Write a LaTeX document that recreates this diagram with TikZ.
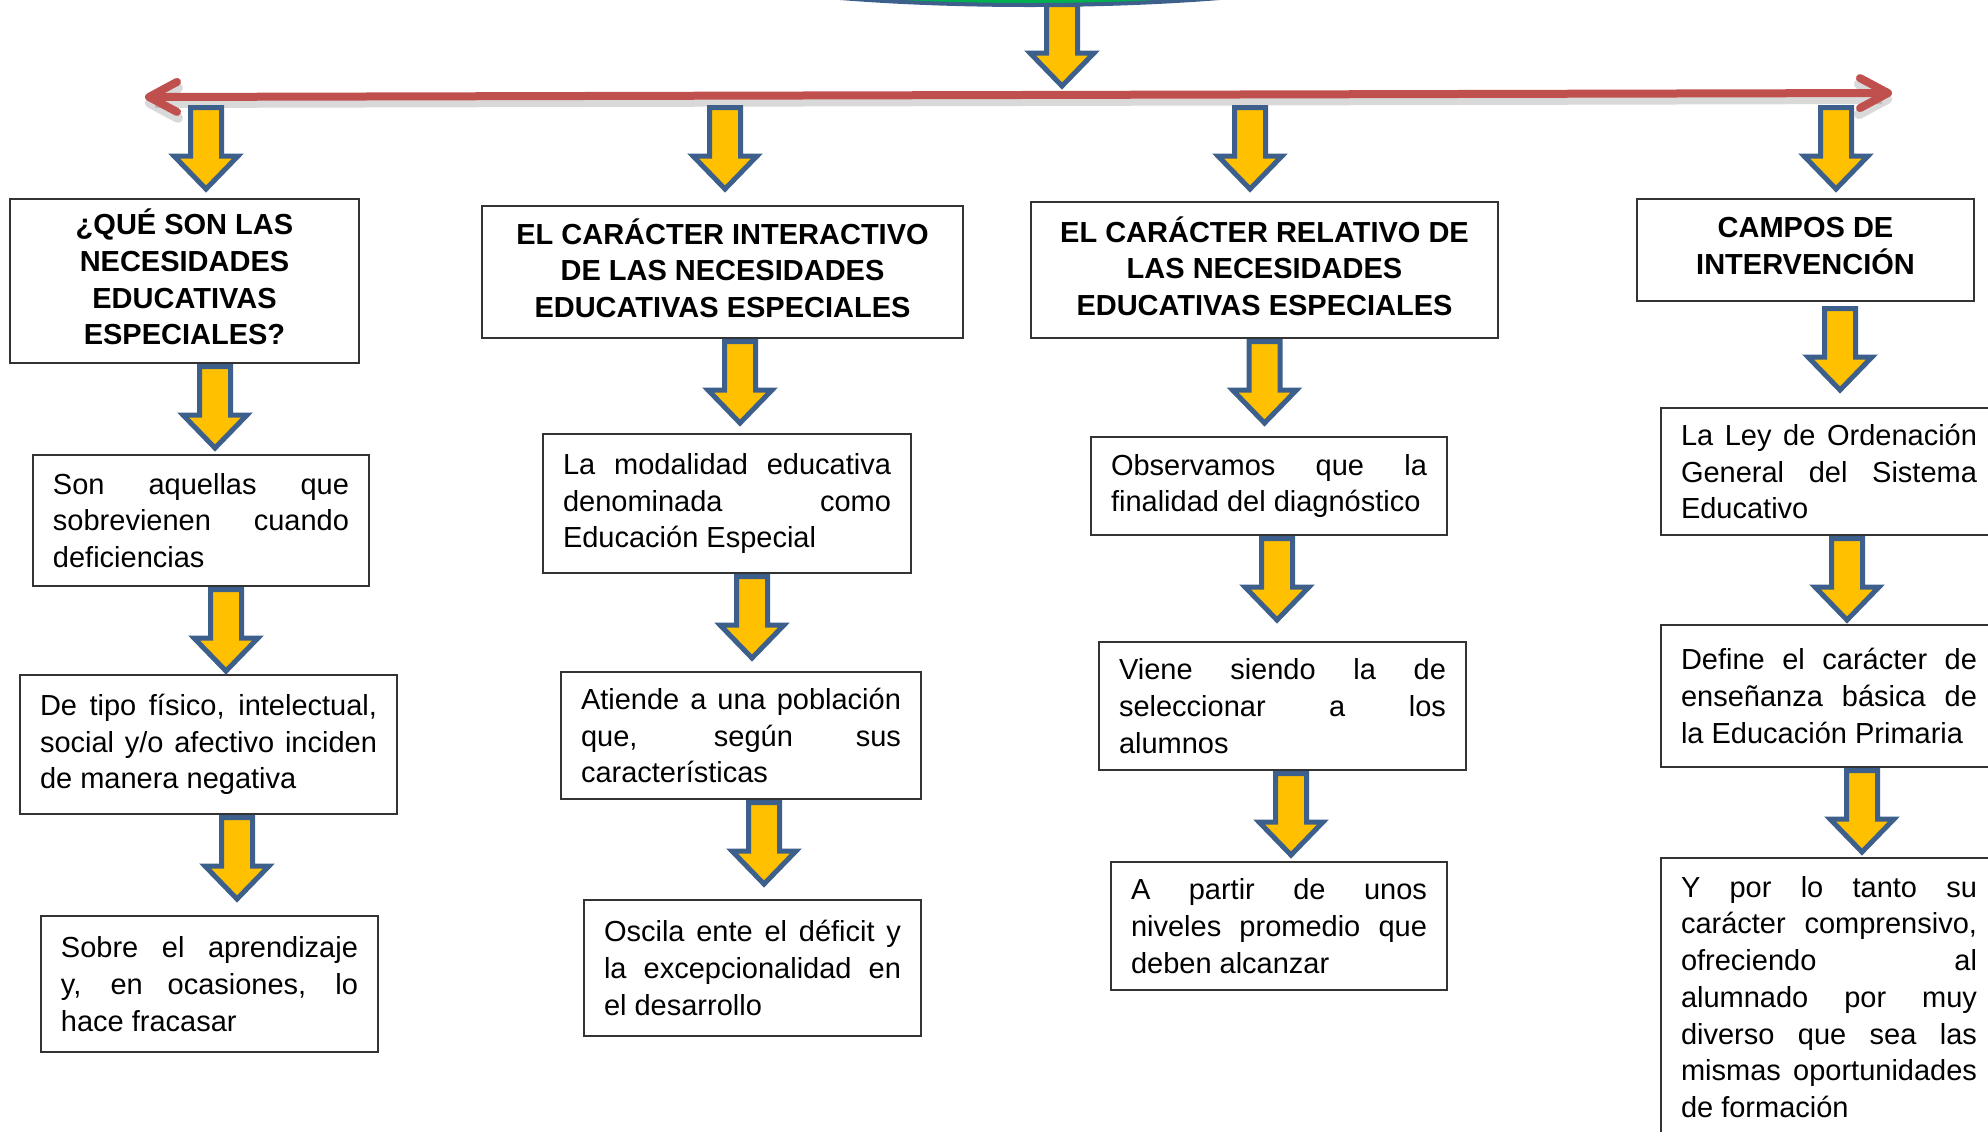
\documentclass[tikz,border=0pt]{standalone}
\usepackage{fontspec}
\setmainfont{Liberation Sans}
\usetikzlibrary{arrows.meta,calc}

\definecolor{arrowfill}{HTML}{FFC000}
\definecolor{arrowedge}{HTML}{3C5F8C}
\definecolor{barred}{HTML}{C0504D}
\definecolor{titlegreen}{HTML}{00B050}

\tikzset{
  txtbox/.style={draw=black!80, line width=1pt, fill=white, inner xsep=10pt, inner ysep=0pt,
    align=justify, font=\fontsize{14.5}{18.35}\selectfont},
  headbox/.style={txtbox, align=center, text depth=4pt, font=\fontsize{14.5}{18.35}\selectfont\bfseries},
  % block arrow of fixed length, hanging from its start point
  downarrow/.style={draw=arrowedge, fill=arrowfill, line width=2.5pt,
    to path={let \p1=(\tikztostart) in
      (\x1-7.75pt,\y1-1.25pt) -- (\x1+7.75pt,\y1-1.25pt) -- (\x1+7.75pt,\y1-25.5pt)
      -- (\x1+16pt,\y1-25.5pt) -- (\x1,\y1-42pt) -- (\x1-16pt,\y1-25.5pt)
      -- (\x1-7.75pt,\y1-25.5pt) -- cycle}},
  redbar/.style={draw=barred, line width=4pt, >={Straight Barb[length=14pt,width=15pt,round]}, <->},
  barshade/.style={redbar, draw=black, opacity=0.15, line width=5pt},
}

\begin{document}
\begin{tikzpicture}[x=0.5pt, y=-0.5pt]

    % picture frame in pixels of the original
    \useasboundingbox (0,0) rectangle (1988,1131);
    \clip (0,0) rectangle (1988,1131);

    % title shape, cut by the top edge
    \coordinate (hubtop) at (1062,2);
    \coordinate (hub) at (1062,93);
    \draw[downarrow] (hubtop) to (hub);
    \draw[draw=arrowedge, line width=2pt, fill=titlegreen] (1030,-53) ellipse [x radius=199pt, y radius=29pt];

    % the long red bar
    \coordinate (barL) at (145,97);
    \coordinate (barR) at (1892,93);
    \draw[barshade] ([yshift=-3pt]barL) -- ([yshift=-3pt]barR);
    \draw[redbar] (barL) -- (barR);

    % drops from the bar
    \coordinate (t1) at (206,105);
    \coordinate (t2) at (725,105);
    \coordinate (t3) at (1250,105);
    \coordinate (t4) at (1836,105);

    % first column
    \node[headbox, minimum width=174.5pt, minimum height=82pt] (a1) at (184.5,281)
        {¿QUÉ SON LAS\\NECESIDADES\\EDUCATIVAS\\ESPECIALES?};
    \node[txtbox, text width=148pt, minimum height=65.5pt] (a2) at (201,520.5)
        {Son aquellas que\linebreak sobrevienen cuando\linebreak deficiencias};
    \node[txtbox, text width=168.5pt, minimum height=69.5pt] (a3) at (208.5,744.5)
        {De tipo físico, intelectual,\linebreak social y/o afectivo inciden\linebreak de manera negativa};
    \node[txtbox, text width=148.5pt, minimum height=68pt] (a4) at (209.5,984)
        {Sobre el aprendizaje\linebreak y, en ocasiones, lo\linebreak hace fracasar};

    % second column
    \node[headbox, minimum width=240.5pt, minimum height=66pt] (b1) at (722.5,272)
        {EL CARÁCTER INTERACTIVO\\DE LAS NECESIDADES\\EDUCATIVAS ESPECIALES};
    \node[txtbox, text width=164pt, minimum height=69.5pt] (b2) at (727,503.5)
        {La modalidad educativa\linebreak denominada como\linebreak Educación Especial};
    \node[txtbox, text width=160pt, minimum height=63.5pt] (b3) at (741,735.5)
        {Atiende a una población\linebreak que, según sus\linebreak características};
    \node[txtbox, text width=148.5pt, minimum height=68pt] (b4) at (752.5,968)
        {Oscila ente el déficit y\linebreak la excepcionalidad en\linebreak el desarrollo};

    % third column
    \node[headbox, minimum width=233.5pt, minimum height=68pt] (c1) at (1264.5,270)
        {EL CARÁCTER RELATIVO DE\\LAS NECESIDADES\\EDUCATIVAS ESPECIALES};
    \node[txtbox, text width=158pt, minimum height=49pt] (c2) at (1269,486)
        {Observamos que la\linebreak finalidad del diagnóstico};
    \node[txtbox, text width=163.5pt, minimum height=64pt] (c3) at (1282.5,706)
        {Viene siendo la de\linebreak seleccionar a los\linebreak alumnos};
    \node[txtbox, text width=148pt, minimum height=64pt] (c4) at (1279,926)
        {A partir de unos\linebreak niveles promedio que\linebreak deben alcanzar};

    % fourth column (runs off the right and bottom edges)
    \node[headbox, minimum width=168.5pt, minimum height=51pt] (d1) at (1805.5,250)
        {CAMPOS DE\\INTERVENCIÓN};
    \node[txtbox, text width=148pt, minimum height=63.5pt] (d2) at (1829,471.5)
        {La Ley de Ordenación\linebreak General del Sistema\linebreak Educativo};
    \node[txtbox, text width=148pt, minimum height=71pt] (d3) at (1829,696)
        {Define el carácter de\linebreak enseñanza básica de\linebreak la Educación Primaria};
    \node[txtbox, text width=148pt, minimum height=139pt] (d4) at (1829,997)
        {Y por lo tanto su\linebreak carácter comprensivo,\linebreak ofreciendo al\linebreak alumnado por muy\linebreak
         diverso que sea las\linebreak mismas oportunidades\linebreak de formación};

    % yellow arrows
    \draw[downarrow] (t1) to (a1.north);
    \draw[downarrow] (t2) to (b1.north);
    \draw[downarrow] (t3) to (c1.north);
    \draw[downarrow] (t4) to (d1.north);

    \draw[downarrow] ([xshift=15.25pt]a1.south) to (a2.north);
    \draw[downarrow] ([xshift=12.5pt]a2.south) to (a3.north);
    \draw[downarrow] ([xshift=14.25pt]a3.south) to (a4.north);

    \draw[downarrow] ([xshift=8.75pt]b1.south) to (b2.north);
    \draw[downarrow] ([xshift=12.5pt]b2.south) to (b3.north);
    \draw[downarrow] ([xshift=11.5pt]b3.south) to (b4.north);

    \draw[downarrow] (c1.south) to (c2.north);
    \draw[downarrow] ([xshift=4pt]c2.south) to (c3.north);
    \draw[downarrow] ([xshift=4.25pt]c3.south) to (c4.north);

    \draw[downarrow] ([xshift=17.25pt,yshift=-2pt]d1.south) to (d2.north);
    \draw[downarrow] ([xshift=9pt]d2.south) to (d3.north);
    \draw[downarrow] ([xshift=16.5pt]d3.south) to (d4.north);

\end{tikzpicture}
\end{document}
